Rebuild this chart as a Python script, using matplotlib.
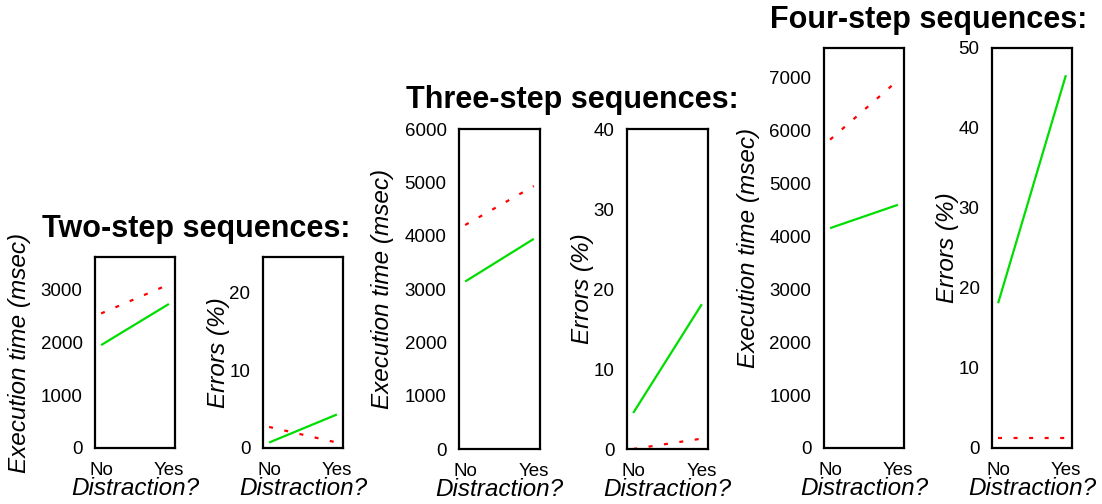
import matplotlib
matplotlib.use("Agg")
import matplotlib.pyplot as plt

plt.rcParams["font.family"] = ["Liberation Sans", "DejaVu Sans"]

# x categories
conditions = ["No", "Yes"]

# execution time (msec): solid green / dotted red series
two_time_green = [1950, 2730]
two_time_red = [2550, 3100]
three_time_green = [3140, 3940]
three_time_red = [4200, 4930]
four_time_green = [4150, 4590]
four_time_red = [5820, 6940]

# errors (%)
two_err_green = [0.7, 4.3]
two_err_red = [2.7, 0.7]
three_err_green = [4.5, 18.1]
three_err_red = [0.0, 1.3]
four_err_green = [18.1, 46.6]
four_err_red = [1.3, 1.3]

titles = ["Two-step sequences:", "Three-step sequences:", "Four-step sequences:"]

W, H = 1102, 504
fig = plt.figure(figsize=(W / 100, H / 100), dpi=100)

GREEN = "#00dd00"
RED = "#ff0000"


def add_panel(box, green, red, ylim, yticks, ylabel, label_x):
    l, r, t, b = box
    ax = fig.add_axes([l / W, 1 - b / H, (r - l) / W, (b - t) / H])
    x = range(len(conditions))
    ax.plot(x, green, color=GREEN, lw=1.6, solid_capstyle="butt")
    ax.plot(x, red, color=RED, lw=1.6, dashes=(1.8, 5.2))
    ax.set_xlim(-0.09, 1.09)
    ax.set_ylim(*ylim)
    ax.set_xticks(list(x))
    ax.set_xticklabels(conditions)
    ax.set_yticks(yticks)
    ax.tick_params(length=0, labelsize=13.5, pad=9)
    ax.tick_params(axis="x", pad=10)
    for s in ax.spines.values():
        s.set_linewidth(1.6)
    ax.set_xlabel("Distraction?", fontsize=17.5, style="italic", labelpad=-1)
    ax.set_ylabel(ylabel, fontsize=17.5, style="italic")
    ax.yaxis.set_label_coords(label_x, 0.5)
    return ax


exec_lbl = "Execution time (msec)"
err_lbl = "Errors (%)"

add_panel((95, 175, 257, 448), two_time_green, two_time_red, (0, 3620),
          [0, 1000, 2000, 3000], exec_lbl, -0.80)
add_panel((263, 343, 257, 448), two_err_green, two_err_red, (0, 24.5),
          [0, 10, 20], err_lbl, -0.41)
add_panel((459, 540, 129, 449), three_time_green, three_time_red, (0, 6000),
          range(0, 6001, 1000), exec_lbl, -0.80)
add_panel((627, 708, 129, 449), three_err_green, three_err_red, (0, 40),
          range(0, 41, 10), err_lbl, -0.41)
add_panel((824, 904, 48, 448), four_time_green, four_time_red, (0, 7550),
          range(0, 7001, 1000), exec_lbl, -0.80)
add_panel((992, 1072, 48, 448), four_err_green, four_err_red, (0, 50),
          range(0, 51, 10), err_lbl, -0.41)

title_pos = [(196, 237), (572, 108), (929, 28)]
for txt, (cx, by) in zip(titles, title_pos):
    fig.text(cx / W, 1 - by / H, txt, ha="center", va="baseline",
             fontsize=22, fontweight="bold")

fig.savefig("out.png", dpi=100)
